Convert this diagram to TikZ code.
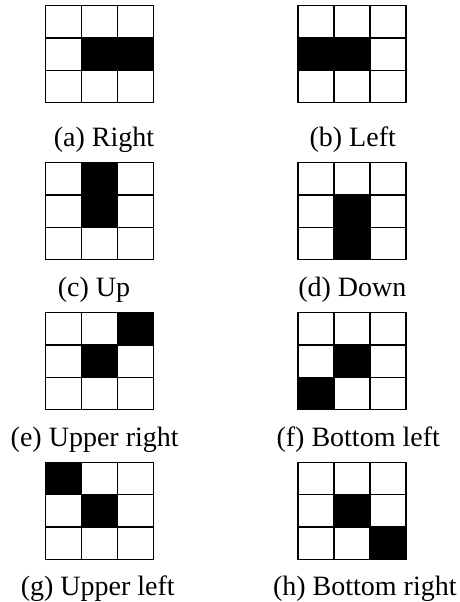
\documentclass[tikz,border=0pt]{standalone}
\usepackage{fontspec}
\setmainfont{Liberation Serif}

\begin{document}
\begin{tikzpicture}[
  x=1pt, y=-1pt,
  cell/.style ={draw, line width=1.4pt, minimum width=36pt, minimum height=32.3pt,
                inner sep=0pt, outer sep=0pt},
  oncell/.style={cell, fill=black},
  subcap/.style={anchor=base, inner sep=0pt, font=\fontsize{28}{32}\selectfont}]

\useasboundingbox (0,0) rectangle (459,602);

%% ── Panels: tag / grid left / grid top / black cells / caption x / caption baseline / text ──
\foreach \tag/\gx/\gy/\on/\lx/\ly/\txt in {
    a/45.7/5.7/{1/1,2/1}/104/146.7/Right,
    b/298/5.7/{0/1,1/1}/352.7/146.7/Left,
    c/45.7/162.7/{1/0,1/1}/94/296/Up,
    d/298/162.7/{1/1,1/2}/352.3/296/Down,
    e/45.7/312.7/{2/0,1/1}/94.7/446/Upper right,
    f/298/312.7/{1/1,0/2}/358.2/446/Bottom left,
    g/45.7/462.3/{0/0,1/1}/97.8/595/Upper left,
    h/298/462.3/{1/1,2/2}/364.8/595/Bottom right}
{
  %% 3x3 grid
  \foreach \i in {0,1,2}
    \foreach \j in {0,1,2}
      \node[cell] (\tag-\i-\j) at (\gx+18+\i*36, \gy+16.15+\j*32.3) {};
  %% black cells of the direction
  \foreach \i/\j in \on
    \node[oncell] (\tag-on-\i-\j) at (\tag-\i-\j) {};
  %% caption
  \node[subcap] (cap-\tag) at (\lx,\ly) {(\tag) \txt};
}
\end{tikzpicture}
\end{document}
